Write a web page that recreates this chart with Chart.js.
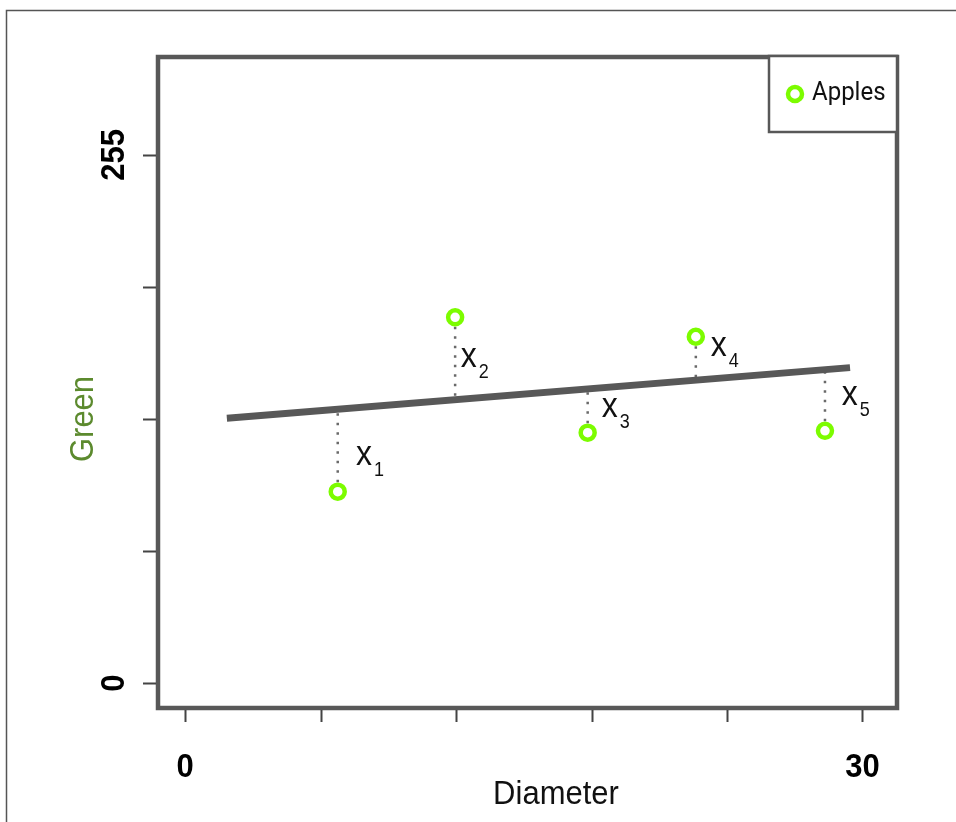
<!DOCTYPE html>
<html>
<head>
<meta charset="utf-8">
<script src="https://cdn.jsdelivr.net/npm/chart.js@4"></script>
<style>
  html, body { margin: 0; padding: 0; background: #fff; }
  #wrap { width: 956px; height: 822px; position: relative; }
</style>
</head>
<body>
<div id="wrap"><canvas id="chart"></canvas></div>
<script>
// apples: diameter vs green channel
const diameter = [6.76, 11.96, 17.83, 22.62, 28.34];
const green = [92.4, 176.6, 120.9, 167.2, 121.8];
// fitted line, read at its two ends and under each apple
const fitX = [1.85, 29.45];
const fitY = [127.8, 152.3];
const fitAtApple = [132.2, 136.8, 142.0, 146.2, 151.3];
// residual labels x1..x5 (data units, left/baseline of the "x")
const labelNames = ['1', '2', '3', '4', '5'];
const labelX = [7.57, 12.21, 18.45, 23.28, 29.08];
const labelY = [105.3, 152.5, 128.6, 157.9, 134.3];
// axis ticks
const xTicks = [0, 6, 12, 18, 24, 30];
const xTickLabels = { 0: '0', 30: '30' };
const yTicks = [0, 63.75, 127.5, 191.25, 255];
const yTickLabels = { 0: '0', 255: '255' };

const APPLE = '#7CFC00';
const DARK = '#585858';
const FONT = '"Liberation Sans", Arial, sans-serif';

const residuals = diameter.map((d, i) => ({
  type: 'line',
  data: [{ x: d, y: green[i] }, { x: d, y: fitAtApple[i] }],
  borderColor: '#6a6a6a',
  borderWidth: 2.5,
  borderDash: [2.5, 7],
  pointRadius: 0,
  order: 3
}));

// text a bit taller than wide, like the original
function tallText(ctx, s, x, y, sy) {
  ctx.save();
  ctx.translate(x, y);
  ctx.scale(1, sy);
  ctx.fillText(s, 0, 0);
  ctx.restore();
}

const rPlot = {
  id: 'rPlot',
  beforeDraw(chart) {
    const ctx = chart.ctx;
    ctx.save();
    ctx.strokeStyle = '#555';
    ctx.lineWidth = 1.5;
    ctx.beginPath();
    ctx.moveTo(6.5, 830);
    ctx.lineTo(6.5, 10.5);
    ctx.lineTo(960, 10.5);
    ctx.stroke();
    ctx.restore();
  },
  afterDraw(chart) {
    const ctx = chart.ctx;
    const a = chart.chartArea;
    const xs = chart.scales.x, ys = chart.scales.y;
    ctx.save();

    // residual labels
    ctx.fillStyle = '#111';
    ctx.textBaseline = 'alphabetic';
    ctx.textAlign = 'left';
    labelNames.forEach((n, i) => {
      const px = xs.getPixelForValue(labelX[i]);
      const py = ys.getPixelForValue(labelY[i]);
      ctx.font = '32px ' + FONT;
      tallText(ctx, 'x', px, py, 1.1);
      const w = ctx.measureText('x').width;
      ctx.font = '18px ' + FONT;
      tallText(ctx, n, px + w + 2, py + 11, 1.1);
    });

    // box
    ctx.strokeStyle = DARK;
    ctx.lineWidth = 4.5;
    ctx.strokeRect(a.left, a.top, a.right - a.left, a.bottom - a.top);

    // ticks
    ctx.lineWidth = 2;
    ctx.strokeStyle = '#444';
    ctx.beginPath();
    xTicks.forEach(t => {
      const px = Math.round(xs.getPixelForValue(t)) + 0.5;
      ctx.moveTo(px, a.bottom + 2);
      ctx.lineTo(px, a.bottom + 14);
    });
    yTicks.forEach(t => {
      const py = Math.round(ys.getPixelForValue(t)) + 0.5;
      ctx.moveTo(a.left - 15, py);
      ctx.lineTo(a.left - 2, py);
    });
    ctx.stroke();

    // tick labels
    ctx.fillStyle = '#000';
    ctx.font = 'bold 31px ' + FONT;
    ctx.textAlign = 'center';
    ctx.textBaseline = 'alphabetic';
    Object.keys(xTickLabels).forEach(k => {
      tallText(ctx, xTickLabels[k], xs.getPixelForValue(+k), 777, 1.08);
    });
    Object.keys(yTickLabels).forEach(k => {
      ctx.save();
      ctx.translate(124, ys.getPixelForValue(+k));
      ctx.rotate(-Math.PI / 2);
      ctx.scale(1, 1.08);
      ctx.fillText(yTickLabels[k], 0, 0);
      ctx.restore();
    });

    // axis titles
    ctx.font = '31px ' + FONT;
    ctx.fillStyle = '#111';
    tallText(ctx, 'Diameter', 556, 804, 1.08);
    ctx.save();
    ctx.translate(93, ys.getPixelForValue(127.5));
    ctx.rotate(-Math.PI / 2);
    ctx.scale(1, 1.08);
    ctx.fillStyle = '#5C8A2E';
    ctx.fillText('Green', 0, 0);
    ctx.restore();

    // legend
    const lx = 769, ly = 56, lw = a.right - 769, lh = 76;
    ctx.fillStyle = '#fff';
    ctx.fillRect(lx, ly, lw, lh);
    ctx.strokeStyle = DARK;
    ctx.lineWidth = 2.5;
    ctx.strokeRect(lx, ly, lw, lh);
    ctx.beginPath();
    ctx.arc(795, 94, 7, 0, Math.PI * 2);
    ctx.strokeStyle = APPLE;
    ctx.lineWidth = 4.5;
    ctx.stroke();
    ctx.fillStyle = '#111';
    ctx.font = '24px Roboto, ' + FONT;
    ctx.textAlign = 'left';
    tallText(ctx, chart.data.datasets[0].label, 812, 100, 1.05);

    ctx.restore();
  }
};

new Chart(document.getElementById('chart'), {
  type: 'scatter',
  data: {
    datasets: [
      {
        label: 'Apples',
        data: diameter.map((d, i) => ({ x: d, y: green[i] })),
        pointRadius: 7,
        pointHoverRadius: 7,
        borderWidth: 4.5,
        borderColor: APPLE,
        backgroundColor: '#fff',
        order: 1
      },
      {
        type: 'line',
        label: 'fit',
        data: fitX.map((x, i) => ({ x: x, y: fitY[i] })),
        borderColor: DARK,
        borderWidth: 7,
        borderCapStyle: 'butt',
        pointRadius: 0,
        order: 2
      },
      ...residuals
    ]
  },
  options: {
    responsive: true,
    maintainAspectRatio: false,
    animation: false,
    layout: { padding: { left: 158, right: 59, top: 57, bottom: 114 } },
    plugins: { legend: { display: false }, tooltip: { enabled: false } },
    scales: {
      x: { type: 'linear', min: -1.2, max: 31.53, display: false },
      y: { type: 'linear', min: -12.07, max: 302.3, display: false }
    }
  },
  plugins: [rPlot]
});
</script>
</body>
</html>
